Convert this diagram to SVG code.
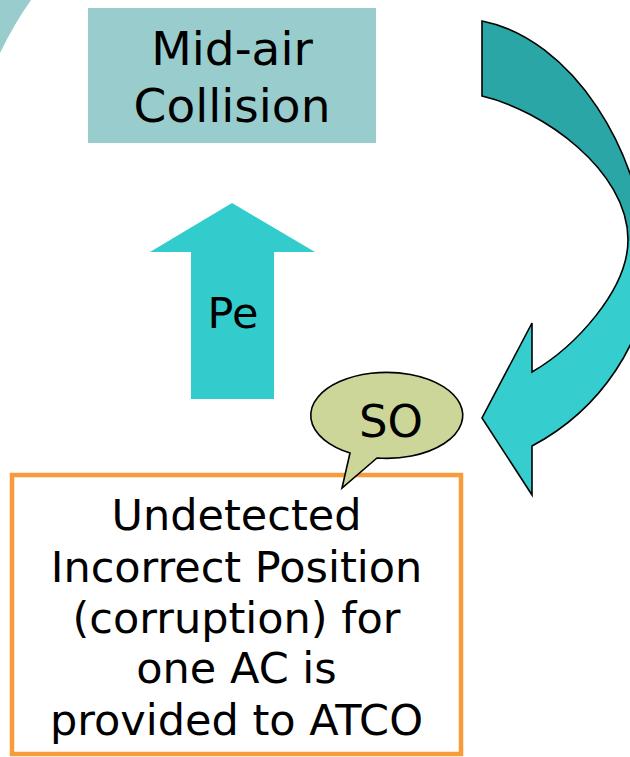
<svg xmlns="http://www.w3.org/2000/svg" width="630" height="757" viewBox="0 0 630 757">
  <defs>
    <!-- two-tone fill of the curved arrow: shaded back part on top, bright front below -->
    <linearGradient id="curveFill" gradientUnits="userSpaceOnUse" x1="0" y1="0" x2="0" y2="757">
      <stop offset="0" stop-color="#2ba6a6"/>
      <stop offset="0.318" stop-color="#2ba6a6"/>
      <stop offset="0.318" stop-color="#35cdcd"/>
      <stop offset="1" stop-color="#35cdcd"/>
    </linearGradient>
  </defs>
  <style>
    .label { font-family: "DejaVu Sans", Verdana, sans-serif; fill: #000; text-anchor: middle; }
    .outline { stroke: #000; stroke-width: 1.6; stroke-linejoin: miter; }
  </style>

  <rect width="630" height="757" fill="#ffffff"/>

  <!-- corner decoration -->
  <path d="M0,0 L31,0 Q14,24 0,53 Z" fill="#99cccc"/>

  <g id="mid-air-collision">
    <rect x="88" y="8" width="288" height="135" fill="#99cccc"/>
    <text class="label" x="232" y="65" font-size="47">Mid-air</text>
    <text class="label" x="232" y="122" font-size="47">Collision</text>
  </g>

  <g id="connectors">
    <g id="pe-arrow">
      <polygon points="232,203 315,252 274,252 274,399 191,399 191,252 150,252" fill="#33cccc"/>
      <text class="label" x="233" y="328" font-size="43">Pe</text>
    </g>
    <path id="curved-arrow" class="outline" fill="url(#curveFill)"
          d="M482,21 C570,38 645,150 648,270 C648,340 600,410 532,446 L532,495 L482,418 L532,323 L532,372 C575,347 628,290 628,240 C628,170 542,110 482,96 Z"/>
  </g>

  <g id="incorrect-position">
    <rect x="12" y="475" width="449" height="279" fill="#ffffff" stroke="#f89b3b" stroke-width="4.5"/>
    <text class="label" x="236.5" y="530" font-size="43">Undetected</text>
    <text class="label" x="236.5" y="582" font-size="43">Incorrect Position</text>
    <text class="label" x="236.5" y="633" font-size="43">(corruption) for</text>
    <text class="label" x="236.5" y="683" font-size="43">one AC is</text>
    <text class="label" x="236.5" y="735" font-size="43">provided to ATCO</text>
  </g>

  <g id="so-callout">
    <path class="outline" fill="#ccd699" d="M350,453 L342,488 L377,458 A76,43 0 1 0 350,453 Z"/>
    <text class="label" x="391" y="437" font-size="45">SO</text>
  </g>
</svg>
